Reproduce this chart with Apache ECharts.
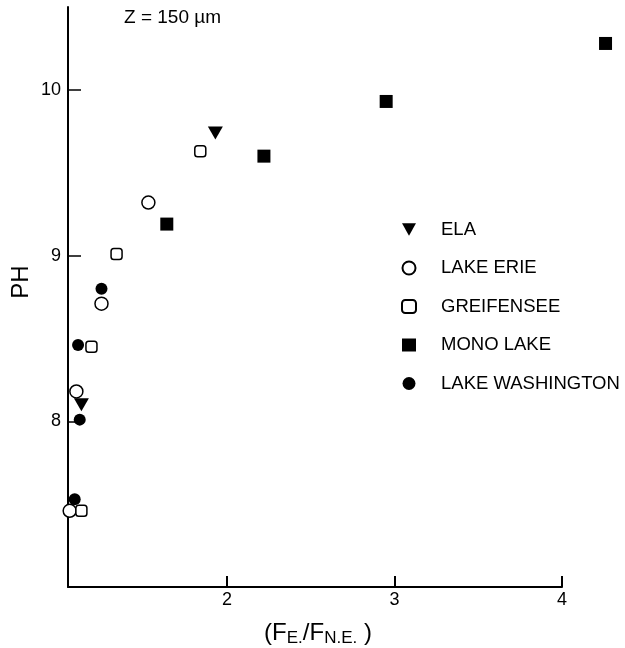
<!DOCTYPE html>
<html>
<head>
<meta charset="utf-8">
<script src="https://cdn.jsdelivr.net/npm/echarts@6/dist/echarts.min.js"></script>
<style>
  html, body { margin: 0; padding: 0; background: #fff; }
  #main { width: 625px; height: 648px; }
</style>
</head>
<body>
<div id="main"></div>
<script>
// series names, legend order
let seriesNames = ['ELA', 'LAKE ERIE', 'GREIFENSEE', 'MONO LAKE', 'LAKE WASHINGTON'];

// [F_E./F_N.E., pH]
let elaData = [[1.93, 9.74], [1.13, 8.10]];
let erieData = [[1.53, 9.32], [1.25, 8.71], [1.10, 8.18], [1.06, 7.46]];
let greifenseeData = [[1.84, 9.63], [1.34, 9.01], [1.19, 8.45], [1.13, 7.46]];
let monoData = [[1.64, 9.19], [2.22, 9.60], [2.95, 9.93], [4.26, 10.28]];
let washingtonData = [[1.25, 8.80], [1.11, 8.46], [1.12, 8.01], [1.09, 7.53]];

// tick labels
let xTicks = [2, 3, 4];
let yTicks = [8, 9, 10];

let font = 'Liberation Sans, Arial, Helvetica, sans-serif';
let triDown = 'path://M0,0 L10,0 L5,9 Z';

function open(sym) {
    return { symbol: sym, itemStyle: { color: '#fff', borderColor: '#000', borderWidth: 1.5, opacity: 1 } };
}
function solid(sym) {
    return { symbol: sym, itemStyle: { color: '#000', borderWidth: 0, opacity: 1 } };
}

let styles = [
    Object.assign(solid(triDown), { symbolSize: [15, 13] }),
    Object.assign(open('circle'), { symbolSize: 13 }),
    Object.assign(open('roundRect'), { symbolSize: 11 }),
    Object.assign(solid('rect'), { symbolSize: 13 }),
    Object.assign(solid('circle'), { symbolSize: 12 })
];
let datas = [elaData, erieData, greifenseeData, monoData, washingtonData];

let series = seriesNames.map((name, i) => Object.assign({
    name: name,
    type: 'scatter',
    clip: false, // the last mono lake point sits past the end of the x axis
    data: datas[i]
}, styles[i]));

let chart = echarts.init(document.getElementById('main'), null, { renderer: 'canvas' });

chart.setOption({
    animation: false,
    backgroundColor: '#fff',
    grid: { left: 68, right: 63, top: 7, bottom: 61 },
    xAxis: {
        type: 'value',
        min: 1.05,
        max: 4,
        splitLine: { show: false },
        axisLine: { lineStyle: { color: '#000', width: 2 } },
        axisTick: { inside: true, length: 11, customValues: xTicks, lineStyle: { color: '#000', width: 2 } },
        axisLabel: { customValues: xTicks, margin: 4, color: '#000', fontSize: 18, fontFamily: font }
    },
    yAxis: {
        type: 'value',
        min: 7,
        max: 10.5,
        splitLine: { show: false },
        axisLine: { lineStyle: { color: '#000', width: 2 } },
        axisTick: { inside: true, length: 13, customValues: yTicks, lineStyle: { color: '#000', width: 1.5 } },
        axisLabel: { customValues: yTicks, margin: 7, color: '#000', fontSize: 18, fontFamily: font }
    },
    legend: {
        orient: 'vertical',
        left: 396,
        top: 215,
        itemWidth: 14,
        itemHeight: 13,
        itemGap: 19.5,
        selectedMode: false,
        textStyle: { color: '#000', fontSize: 18.5, fontFamily: font, padding: [0, 0, 0, 20] },
        data: seriesNames
    },
    graphic: [
        {
            type: 'text', left: 124, top: 8,
            style: { text: 'Z = 150 µm', fill: '#000', font: '19px ' + font }
        },
        {
            type: 'text', x: 21, y: 282, rotation: Math.PI / 2,
            style: { text: 'PH', fill: '#000', font: '24px ' + font, align: 'center', verticalAlign: 'middle' }
        },
        {
            type: 'text', x: 318, y: 633,
            style: {
                text: '{n|(F}{s|E.}{n|/F}{s|N.E.}{n| )}',
                align: 'center', verticalAlign: 'middle',
                rich: {
                    n: { fontSize: 24, fontFamily: font, fill: '#000', lineHeight: 28, verticalAlign: 'middle' },
                    s: { fontSize: 17, fontFamily: font, fill: '#000', lineHeight: 28, padding: [11, 0, 0, 0], verticalAlign: 'middle' }
                }
            }
        }
    ],
    series: series
});
</script>
</body>
</html>
